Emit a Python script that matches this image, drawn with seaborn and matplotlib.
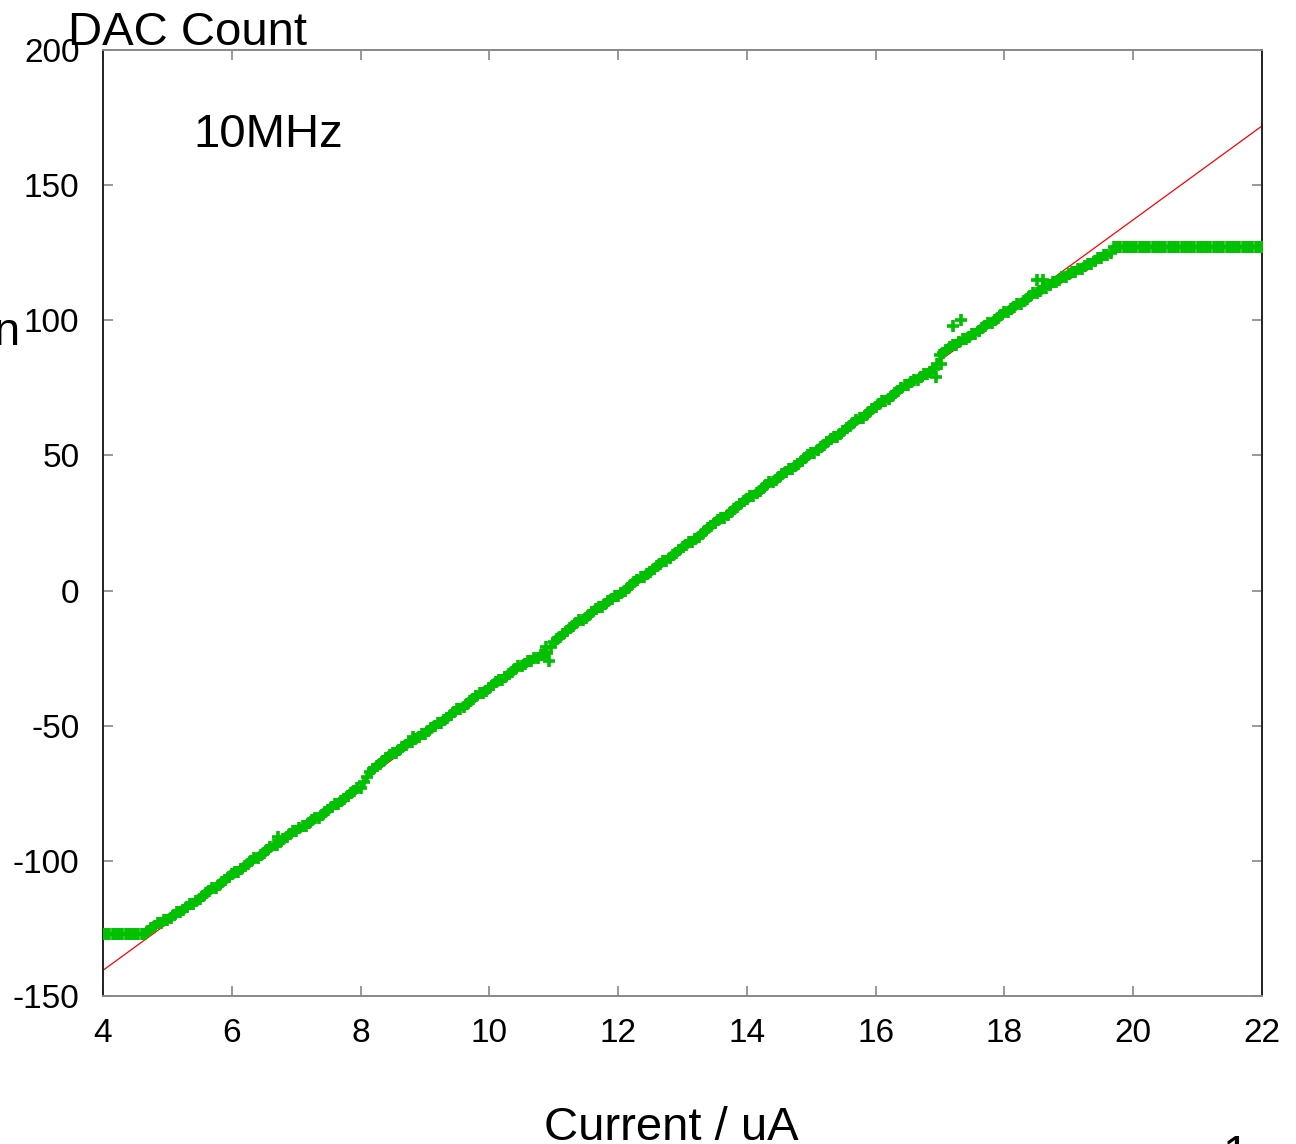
#!/usr/bin/env python3
import pandas as pd
import seaborn as sns
import matplotlib.pyplot as plt

# saturated at the low end
low_ua = [4.00, 4.05, 4.10, 4.15, 4.20, 4.25, 4.30, 4.35, 4.40, 4.45,
          4.50, 4.55, 4.60, 4.65]
low_dac = [-127] * len(low_ua)

# linear region
ramp_ua = [
    4.70, 4.75, 4.80, 4.85, 4.90, 4.95, 5.00, 5.05, 5.10, 5.15,
    5.20, 5.25, 5.30, 5.35, 5.40, 5.45, 5.50, 5.55, 5.60, 5.65,
    5.70, 5.75, 5.80, 5.85, 5.90, 5.95, 6.00, 6.05, 6.10, 6.15,
    6.20, 6.25, 6.30, 6.35, 6.40, 6.45, 6.50, 6.55, 6.60, 6.65,
    6.70, 6.75, 6.80, 6.85, 6.90, 6.95, 7.00, 7.05, 7.10, 7.15,
    7.20, 7.25, 7.30, 7.35, 7.40, 7.45, 7.50, 7.55, 7.60, 7.65,
    7.70, 7.75, 7.80, 7.85, 7.90, 7.95, 8.00, 8.05, 8.10, 8.15,
    8.20, 8.25, 8.30, 8.35, 8.40, 8.45, 8.50, 8.55, 8.60, 8.65,
    8.70, 8.75, 8.80, 8.85, 8.90, 8.95, 9.00, 9.05, 9.10, 9.15,
    9.20, 9.25, 9.30, 9.35, 9.40, 9.45, 9.50, 9.55, 9.60, 9.65,
    9.70, 9.75, 9.80, 9.85, 9.90, 9.95, 10.00, 10.05, 10.10, 10.15,
    10.20, 10.25, 10.30, 10.35, 10.40, 10.45, 10.50, 10.55, 10.60, 10.65,
    10.70, 10.75, 10.80, 10.85, 10.90, 10.95, 11.00, 11.05, 11.10, 11.15,
    11.20, 11.25, 11.30, 11.35, 11.40, 11.45, 11.50, 11.55, 11.60, 11.65,
    11.70, 11.75, 11.80, 11.85, 11.90, 11.95, 12.00, 12.05, 12.10, 12.15,
    12.20, 12.25, 12.30, 12.35, 12.40, 12.45, 12.50, 12.55, 12.60, 12.65,
    12.70, 12.75, 12.80, 12.85, 12.90, 12.95, 13.00, 13.05, 13.10, 13.15,
    13.20, 13.25, 13.30, 13.35, 13.40, 13.45, 13.50, 13.55, 13.60, 13.65,
    13.70, 13.75, 13.80, 13.85, 13.90, 13.95, 14.00, 14.05, 14.10, 14.15,
    14.20, 14.25, 14.30, 14.35, 14.40, 14.45, 14.50, 14.55, 14.60, 14.65,
    14.70, 14.75, 14.80, 14.85, 14.90, 14.95, 15.00, 15.05, 15.10, 15.15,
    15.20, 15.25, 15.30, 15.35, 15.40, 15.45, 15.50, 15.55, 15.60, 15.65,
    15.70, 15.75, 15.80, 15.85, 15.90, 15.95, 16.00, 16.05, 16.10, 16.15,
    16.20, 16.25, 16.30, 16.35, 16.40, 16.45, 16.50, 16.55, 16.60, 16.65,
    16.70, 16.75, 16.80, 16.85, 16.90, 16.95, 17.00, 17.05, 17.10, 17.15,
    17.20, 17.25, 17.30, 17.35, 17.40, 17.45, 17.50, 17.55, 17.60, 17.65,
    17.70, 17.75, 17.80, 17.85, 17.90, 17.95, 18.00, 18.05, 18.10, 18.15,
    18.20, 18.25, 18.30, 18.35, 18.40, 18.45, 18.50, 18.55, 18.60, 18.65,
    18.70, 18.75, 18.80, 18.85, 18.90, 18.95, 19.00, 19.05, 19.10, 19.15,
    19.20, 19.25, 19.30, 19.35, 19.40, 19.45, 19.50, 19.55, 19.60, 19.65,
]
ramp_dac = [
    -126, -125, -124, -123, -123, -122, -122, -121, -120, -119,
    -119, -118, -117, -116, -116, -115, -114, -113, -112, -111,
    -110, -110, -109, -108, -107, -106, -105, -104, -104, -103,
    -102, -101, -100, -99, -99, -98, -97, -96, -95, -94,
    -94, -93, -92, -91, -90, -89, -89, -88, -87, -87,
    -86, -85, -84, -84, -83, -82, -81, -80, -79, -79,
    -78, -77, -76, -75, -74, -73, -73, -71, -69, -67,
    -66, -65, -64, -63, -62, -61, -60, -60, -59, -58,
    -57, -56, -56, -55, -54, -53, -53, -52, -51, -50,
    -49, -49, -48, -47, -46, -45, -44, -44, -43, -42,
    -41, -40, -39, -38, -38, -37, -36, -35, -34, -33,
    -33, -32, -31, -30, -29, -28, -28, -27, -26, -26,
    -25, -25, -24, -24, -23, -21, -19, -18, -17, -16,
    -15, -14, -13, -12, -11, -11, -10, -9, -8, -7,
    -6, -6, -5, -4, -3, -2, -2, -1, 0, 1,
    2, 3, 4, 5, 5, 6, 7, 8, 9, 10,
    11, 11, 12, 13, 14, 15, 16, 17, 18, 18,
    19, 20, 21, 22, 23, 24, 25, 26, 27, 27,
    28, 29, 30, 31, 32, 33, 34, 35, 35, 36,
    37, 38, 39, 40, 40, 41, 42, 43, 44, 45,
    45, 46, 47, 48, 49, 50, 51, 51, 52, 53,
    54, 55, 56, 57, 57, 58, 59, 60, 61, 62,
    63, 64, 64, 65, 66, 67, 68, 69, 70, 70,
    71, 72, 73, 74, 75, 76, 76, 77, 78, 78,
    79, 80, 80, 81, 82, 84, 87, 88, 89, 90,
    91, 91, 92, 93, 93, 94, 95, 95, 96, 97,
    98, 99, 99, 100, 101, 102, 103, 103, 104, 105,
    106, 106, 107, 108, 109, 110, 110, 111, 112, 112,
    113, 114, 114, 115, 116, 116, 117, 118, 118, 119,
    119, 120, 121, 121, 122, 123, 123, 124, 124, 125,
]

# saturated at the high end
high_ua = [
    19.70, 19.75, 19.80, 19.85, 19.90, 19.95, 20.00, 20.05, 20.10, 20.15,
    20.20, 20.25, 20.30, 20.35, 20.40, 20.45, 20.50, 20.55, 20.60, 20.65,
    20.70, 20.75, 20.80, 20.85, 20.90, 20.95, 21.00, 21.05, 21.10, 21.15,
    21.20, 21.25, 21.30, 21.35, 21.40, 21.45, 21.50, 21.55, 21.60, 21.65,
    21.70, 21.75, 21.80, 21.85, 21.90, 21.95, 22.00,
]
high_dac = [127] * len(high_ua)

# stray readings off the main band
stray_ua = [6.72, 8.82, 10.88, 10.93, 16.93, 17.02, 17.20, 17.33, 18.50, 18.60]
stray_dac = [-91, -54, -21, -26, 79, 84, 98, 100, 115, 115]

# straight-line fit (red)
fit_ua = [4.0, 22.0]
fit_dac = [-140.5, 171.9]

x_ticks = [4, 6, 8, 10, 12, 14, 16, 18, 20, 22]
y_ticks = [-150, -100, -50, 0, 50, 100, 150, 200]

df = pd.DataFrame({
    "current": low_ua + ramp_ua + high_ua + stray_ua,
    "dac": low_dac + ramp_dac + high_dac + stray_dac,
})

sns.set_theme(style="white")
plt.rcParams["font.family"] = ["Liberation Sans", "DejaVu Sans"]
plt.rcParams["text.color"] = "black"
plt.rcParams["axes.unicode_minus"] = False

fig = plt.figure(figsize=(12.96, 11.44), dpi=100)
ax = fig.add_axes([103 / 1296, 1 - 996 / 1144, (1262 - 103) / 1296, (996 - 50) / 1144])

sns.lineplot(x=fit_ua, y=fit_dac, ax=ax, color="#ff0000", linewidth=0.9, zorder=2)
sns.scatterplot(data=df, x="current", y="dac", ax=ax, marker="+", s=75,
                color="#00c000", linewidth=2.6, zorder=3)

ax.set_xlim(4, 22)
ax.set_ylim(-150, 200)
ax.set_xticks(x_ticks)
ax.set_yticks(y_ticks)
ax.set_xlabel("")
ax.set_ylabel("")
ax.tick_params(direction="in", length=7, width=1.2, color="#888888",
               labelsize=24, labelcolor="black",
               top=True, right=True, bottom=True, left=True)
ax.tick_params(axis="x", pad=16)
ax.tick_params(axis="y", pad=17)
for side in ["left", "right"]:
    ax.spines[side].set_color("#222222")
    ax.spines[side].set_linewidth(1.4)
for side in ["top", "bottom"]:
    ax.spines[side].set_color("#888888")
    ax.spines[side].set_linewidth(1.4)

fig.text(68 / 1296, 1 - 45 / 1144, "DAC Count", fontsize=34, ha="left", va="baseline")
fig.text(193 / 1296, 1 - 147 / 1144, "10MHz", fontsize=34, ha="left", va="baseline")
fig.text(671 / 1296, 1 - 1140 / 1144, "Current / uA", fontsize=34, ha="center", va="baseline")
fig.text(20 / 1296, 1 - 345 / 1144, "n", fontsize=34, ha="right", va="baseline")
fig.text(1236 / 1296, 1 - 1134 / 1144, "1", fontsize=34, ha="center", va="top")

plt.savefig("out.png", dpi=100)
